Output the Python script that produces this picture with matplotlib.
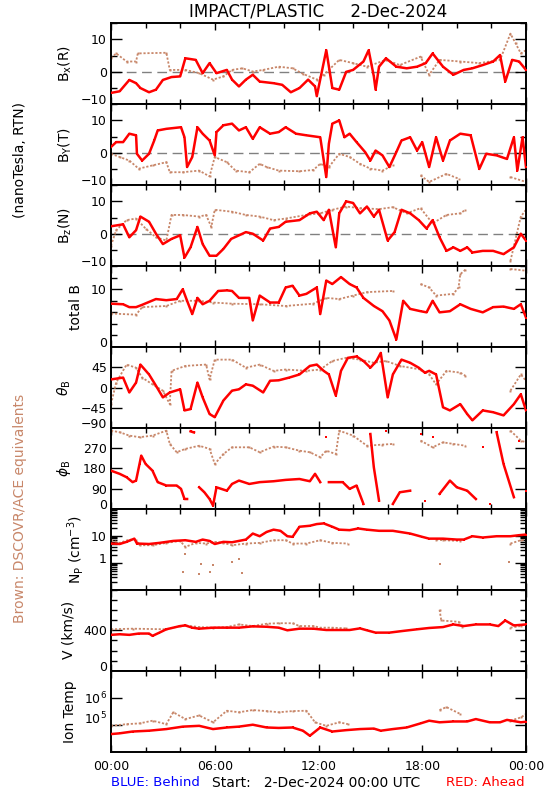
import matplotlib
matplotlib.use('Agg')
import matplotlib.pyplot as plt
import numpy as np
from matplotlib.ticker import MultipleLocator, FixedLocator, NullLocator, NullFormatter

nan = float('nan')

# ---------------- data (hours, value) ----------------
bx_red = [(0, -6.5), (0.5, -6), (1.06, -2.5), (1.45, -3.5), (1.7, -5), (2.2, -6.3), (2.6, -5.5), (3.0, -2.5),
          (3.5, -1.6), (4.0, -1.4), (4.3, 4.2), (4.9, 3.7), (5.3, -0.4), (5.7, 2.7), (6.1, -0.4), (6.7, 0.6),
          (7.0, -2.4), (7.4, -4.5), (7.8, -2.4), (8.2, -0.9), (8.6, -3), (9.4, -3.5), (9.9, -4), (10.4, -6.3),
          (10.9, -5), (11.4, -2.4), (11.8, -4.5), (11.9, -7.5), (12.45, 6.7), (12.8, -5), (13.2, -5.5), (13.6, 0),
          (14.0, 0.6), (14.6, 3.2), (14.9, 6.7), (15.2, -1.4), (15.3, -5.5), (15.5, 1.6), (15.9, 4.2), (16.5, 1.6),
          (17.1, 1.1), (17.7, 1.6), (18.2, 2.7), (18.6, 5.7), (19.2, 1.6), (19.8, -0.9), (20.4, 0.6), (20.9, 1.1),
          (21.5, 2.1), (22.1, 3.2), (22.5, 5.2), (22.8, -3), (23.2, 3.7), (23.6, 3.2), (24.0, 0.6)]
bx_brown = [(0, 4.2), (0.3, 5.7), (0.9, 3.2), (1.45, 3.2), (1.55, 5.7), (3.2, 5.9), (3.4, 0.6), (4.3, 0.6),
            (5.1, -0.4), (5.9, -2.4), (6.5, -1.4), (7.0, 0.6), (7.6, 1.1), (8.2, 0.1), (8.8, 0.6), (9.7, 1.6),
            (10.5, 1.1), (11.1, -0.6), (11.9, -2.4), (12.3, -0.9), (13.2, 3.7), (14.0, 2.7), (14.8, 1.6),
            (15.9, 3.7), (16.7, 2.1), (17.9, 4.7), (18.4, -0.9), (19.0, 3.7), (20.2, 3.2), (21.3, 2.7),
            (22.5, 3.7), (23.1, 11.8), (23.4, 8.8), (23.7, 5.7), (24.0, 6.7)]

by_red = [(0, 1.8), (0.3, 3.3), (0.7, 3.3), (1.06, 5.9), (1.45, 5.4), (1.5, -0.3), (1.8, -2.4), (2.2, -0.3),
          (2.5, 3.8), (2.7, 6.9), (3.2, 7.4), (4.05, 7.9), (4.25, 4.8), (4.4, -4.4), (4.7, -1.3), (5.0, 7.9),
          (5.3, 5.9), (5.7, 3.8), (6.0, -0.8), (6.1, 6.4), (6.5, 8.5), (7.0, 9.0), (7.4, 6.9), (7.8, 7.9),
          (8.2, 4.3), (8.6, 7.9), (9.2, 5.9), (9.7, 6.4), (10.1, 7.9), (10.7, 5.9), (11.3, 5.4), (12.1, 4.8),
          (12.45, -7.5), (12.6, 2.8), (12.8, 9.0), (13.2, 10.0), (13.5, 4.8), (13.8, 5.9), (14.2, 3.3),
          (14.7, 0.2), (15.0, -2.4), (15.3, 0.7), (15.7, -0.8), (16.1, -4.4), (16.5, 0.2), (16.8, 3.8),
          (17.3, 4.8), (17.7, 0.7), (18.0, 3.3), (18.4, -4.4), (18.8, 4.8), (19.2, -2.4), (19.6, 3.8),
          (20.2, 5.9), (20.8, 5.4), (21.3, -5.0), (21.7, -0.3), (22.3, -0.8), (22.9, -1.9), (23.3, 4.8),
          (23.5, -5.5), (23.8, 4.8), (24.0, -4.4)]
by_brown = [(0, -0.3), (0.5, -1.3), (1.06, -2.4), (1.6, -4.9), (2.4, -3.9), (3.2, -2.9), (3.4, -6.0),
            (4.15, -6.0), (5.1, -5.5), (5.7, -7.3), (6.0, -1.3), (6.7, -2.9), (7.2, -5.5), (8.0, -6.0),
            (8.6, -3.4), (9.0, -4.4), (9.7, -5.5), (10.9, -5.7), (11.7, -5.3), (12.1, -3.4), (12.6, -4.4),
            (13.2, -0.3), (13.8, -1.3), (14.4, -3.4), (15.0, -4.9), (15.7, -5.5), (16.3, -3.9), (16.35, nan),
            (17.9, -7.0), (18.4, -9.0), (19.4, -6.5), (20.1, -8.0), (20.15, nan), (23.1, -7.5), (24.0, -9.0)]

bz_red = [(0, 2.3), (0.7, 2.9), (1.06, -1.1), (1.45, 1.1), (1.7, 5.3), (2.2, 3.7), (2.6, 0), (3.0, -3.2),
          (3.5, -1.6), (4.0, -0.5), (4.25, -7.4), (4.6, -4.2), (5.0, 2.1), (5.3, -3.2), (5.7, -6.8), (6.1, -6.8),
          (6.5, -4.7), (6.95, -1.6), (7.4, -0.5), (7.8, 0.5), (8.2, 0), (8.8, -2.1), (9.2, 1.6), (9.7, 2.1),
          (10.1, 3.7), (10.9, 4.2), (11.5, 6.3), (11.9, 6.8), (12.3, 4.2), (12.6, 7.4), (13.0, -4.2), (13.2, 6.3),
          (13.6, 10.0), (14.0, 9.5), (14.4, 6.3), (14.8, 8.4), (15.2, 5.3), (15.5, 7.4), (16.0, -2.1), (16.4, 0.5),
          (16.8, 7.4), (17.3, 6.3), (17.8, 4.2), (18.25, 1.6), (18.6, 4.2), (19.0, -1.1), (19.4, -5.3),
          (19.8, -4.2), (20.2, -5.3), (20.6, -4.2), (20.9, -5.8), (21.5, -5.3), (22.1, -5.3), (22.7, -6.3),
          (23.3, -4.2), (23.7, 0), (24.0, -2.1)]
bz_brown = [(0, -3.7), (0.3, 1.1), (0.9, 4.2), (1.45, 4.7), (2.0, 1.6), (2.6, -1.1), (3.2, -2.1), (3.5, 5.8),
            (4.15, 5.8), (5.1, 5.3), (5.5, 5.8), (5.8, 2.1), (6.0, 7.4), (7.0, 6.8), (7.8, 5.8), (8.6, 5.3),
            (9.4, 4.2), (10.1, 4.7), (11.3, 5.8), (12.1, 6.3), (12.8, 7.4), (13.6, 8.4), (14.4, 7.9), (15.5, 7.6),
            (16.3, 8.2), (17.1, 6.3), (17.9, 7.9), (18.6, 3.2), (19.4, 5.8), (20.2, 6.3), (20.5, 7.4),
            (20.55, nan), (23.1, -8.4), (23.7, 5.3), (24.0, 7.4)]

bt_red = [(0, 7.5), (0.7, 7.4), (1.06, 6.9), (1.45, 6.9), (1.8, 7.3), (2.6, 8.3), (3.2, 8.1), (3.8, 8.3),
          (4.15, 10.0), (4.4, 8.0), (4.7, 5.7), (5.0, 8.5), (5.3, 7.4), (5.7, 8.0), (6.2, 9.7), (6.7, 9.8),
          (7.0, 9.7), (7.4, 8.5), (8.0, 8.5), (8.2, 4.6), (8.6, 8.9), (9.2, 7.7), (9.7, 7.7), (10.1, 10.3),
          (10.5, 10.6), (10.9, 8.9), (11.3, 9.2), (11.9, 10.3), (12.1, 5.7), (12.45, 11.5), (12.8, 10.9),
          (13.3, 12.1), (13.8, 10.9), (14.2, 10.3), (14.6, 8.5), (15.2, 7.1), (15.7, 6.2), (16.1, 4.6),
          (16.5, 1.3), (16.9, 8.0), (17.3, 6.6), (17.9, 6.2), (18.25, 6.0), (18.6, 8.0), (19.0, 6.0),
          (19.6, 6.2), (20.2, 7.4), (20.8, 6.6), (21.5, 6.0), (22.1, 6.9), (22.7, 7.0), (23.3, 6.6),
          (23.7, 7.4), (24.0, 5.1)]
bt_brown = [(0, 5.8), (1.45, 5.6), (1.8, 6.9), (3.2, 7.1), (4.0, 8.0), (5.1, 8.0), (5.9, 7.7), (7.0, 7.5),
            (8.6, 7.4), (10.1, 7.1), (11.7, 7.5), (12.45, 8.5), (13.2, 8.3), (14.0, 8.9), (14.8, 9.5),
            (16.3, 9.7), (16.35, nan), (17.9, 10.9), (18.4, 10.3), (18.8, 8.9), (19.8, 9.2), (20.1, 10.3),
            (20.2, 12.6), (20.5, 13.4), (20.55, nan), (23.1, 13.5), (24.0, 13.2)]

th_red = [(0, 18), (0.7, 22), (1.06, -11), (1.45, 11), (1.7, 51), (2.2, 29), (2.6, 4), (3.0, -22), (3.4, -11),
          (4.0, -4), (4.25, -51), (4.6, -48), (5.0, 11), (5.3, -22), (5.7, -59), (6.0, -66), (6.5, -29),
          (7.0, -7), (7.4, -4), (7.8, 7), (8.2, 4), (8.8, -11), (9.2, 15), (9.7, 16), (10.3, 22), (10.9, 29),
          (11.5, 48), (11.9, 51), (12.3, 37), (12.6, 29), (13.0, -18), (13.3, 37), (13.7, 66), (14.2, 69),
          (14.6, 59), (15.0, 44), (15.35, 59), (15.6, 77), (16.0, -22), (16.3, 29), (16.8, 62), (17.3, 55),
          (17.8, 44), (18.15, 33), (18.4, 37), (18.8, 29), (19.2, -44), (19.6, -51), (20.2, -37), (20.6, -59),
          (20.9, -73), (21.5, -51), (22.1, -55), (22.7, -62), (23.3, -37), (23.7, -15), (24.0, -51)]
th_brown = [(0, -37), (0.3, 11), (0.9, 51), (1.45, 44), (1.8, 22), (2.4, 7), (3.0, -7), (3.4, -37), (3.5, 37),
            (4.3, 48), (5.5, 51), (5.7, 18), (6.0, 62), (7.0, 62), (7.8, 44), (8.6, 51), (9.4, 37), (10.1, 40),
            (11.3, 37), (12.1, 40), (12.8, 59), (13.6, 66), (14.4, 62), (15.2, 55), (15.9, 59), (16.7, 48),
            (17.9, 40), (18.4, 29), (18.8, 7), (19.4, 37), (20.2, 33), (20.5, 26), (20.55, nan), (23.1, -7),
            (23.7, 29), (24.0, 15)]

ph_red = [(0, 170), (0.5, 156), (0.9, 141), (1.25, 119), (1.45, 126), (1.65, 200), (1.75, 237), (2.0, 200),
          (2.4, 170), (2.7, 119), (3.2, 104), (3.8, 104), (4.05, 89), (4.25, 44), (4.4, 44), (4.6, 345),
          (4.8, 340), (5.1, 96), (5.4, 74), (5.7, 44), (5.9, 15), (6.1, 96), (6.7, 81), (7.0, 111), (7.4, 126),
          (8.0, 111), (8.6, 119), (9.4, 123), (10.1, 129), (10.9, 133), (11.5, 123), (11.8, 156), (12.1, 119),
          (12.45, 319), (12.6, 119), (13.4, 119), (13.8, 89), (14.2, 104), (14.6, 22), (15.0, 333), (15.2, 185),
          (15.5, 37), (15.9, 348), (16.3, 22), (16.7, 74), (17.3, 81), (17.9, 333), (18.15, 37), (18.6, 319),
          (19.0, 67), (19.6, 126), (20.0, 96), (20.6, 81), (21.1, 44), (21.5, 274), (21.9, 22), (22.3, 341),
          (22.7, 200), (23.3, 52), (23.6, 304), (24.0, 81)]
ph_brown = [(0, 348), (0.5, 341), (1.06, 326), (1.65, 319), (2.4, 326), (3.2, 348), (3.4, 289), (3.8, 252),
            (4.3, 267), (5.1, 281), (5.7, 267), (6.0, 200), (6.5, 244), (7.0, 274), (8.0, 274), (8.6, 252),
            (9.4, 277), (10.1, 274), (10.9, 259), (11.5, 252), (12.1, 230), (12.45, 259), (13.0, 244),
            (13.2, 348), (14.0, 326), (14.8, 281), (15.7, 286), (16.3, 289), (16.35, nan), (17.9, 304),
            (18.6, 274), (19.2, 296), (19.8, 289), (20.5, 281), (20.55, nan), (23.1, 348), (23.7, 304), (24.0, 296)]

np_red = [(0, 5.2), (0.5, 5.0), (0.9, 6.0), (1.35, 7.9), (1.5, 5.2), (2.2, 5.0), (2.8, 5.5), (3.6, 6.5),
          (4.3, 6.9), (4.9, 6.0), (5.3, 7.3), (5.7, 6.5), (6.0, 5.0), (6.5, 6.0), (7.0, 5.8), (7.8, 7.3),
          (8.2, 12.2), (8.6, 9.7), (9.0, 14.0), (9.4, 17.0), (9.8, 15.4), (10.2, 9.7), (10.5, 9.2), (10.9, 21.8),
          (11.5, 23.7), (11.9, 27.4), (12.3, 29.0), (12.8, 21.8), (13.2, 17.0), (13.8, 16.3), (14.3, 18.8),
          (14.8, 17.0), (15.5, 15.4), (16.3, 15.4), (17.3, 12.2), (18.0, 9.2), (18.4, 7.9), (19.2, 7.9),
          (20.0, 7.3), (20.4, 7.3), (20.9, 9.7), (21.5, 8.7), (22.3, 9.7), (23.1, 9.7), (23.6, 10.6), (24.0, 11.2)]
np_brown = [(0, 6.9), (0.5, 5.5), (1.06, 7.3), (1.45, 6.9), (1.65, 4.5), (2.4, 4.5), (3.2, 5.5), (4.0, 6.5),
            (4.3, 3.9), (4.9, 5.5), (5.5, 5.2), (6.0, 6.0), (6.5, 5.5), (7.0, 4.5), (7.8, 5.2), (8.6, 5.5),
            (9.4, 6.9), (10.1, 6.9), (10.5, 5.2), (11.3, 5.2), (12.1, 6.9), (12.8, 5.5), (13.7, 5.2),
            (13.75, nan), (18.8, 7.3), (19.2, 6.9), (20.2, 6.5), (20.25, nan), (23.1, 5.2), (23.7, 6.9), (24.0, 7.3)]
np_brown_outliers = [(4.15, 0.45), (5.1, 0.39), (5.7, 0.45), (7.6, 0.41), (19.0, 0.9), (23.0, 1.1),
                     (5.2, 0.9), (5.9, 0.8), (7.0, 1.1), (4.3, 2.2), (7.4, 1.4)]

v_red = [(0, 355), (0.5, 361), (1.06, 355), (1.6, 368), (2.2, 368), (2.4, 345), (2.8, 377), (3.2, 410),
         (4.0, 442), (4.3, 448), (4.7, 426), (5.1, 416), (5.9, 426), (6.7, 426), (7.4, 426), (8.2, 439),
         (9.0, 435), (9.7, 426), (10.2, 400), (10.9, 416), (11.7, 416), (12.45, 403), (13.2, 403), (13.8, 403),
         (14.4, 419), (14.8, 400), (15.3, 377), (16.1, 377), (16.9, 394), (17.7, 410), (18.4, 423), (19.2, 432),
         (19.8, 458), (20.4, 442), (21.1, 458), (21.9, 458), (22.4, 442), (22.8, 497), (23.3, 448), (24.0, 458)]
v_brown = [(0, 410), (1.25, 416), (3.2, 410), (4.0, 442), (4.3, 448), (5.1, 432), (5.9, 426), (6.7, 432),
           (7.4, 458), (8.2, 442), (9.0, 465), (9.7, 470), (10.5, 470), (10.9, 442), (11.7, 442), (12.1, 426),
           (12.8, 426), (13.6, 419), (13.65, nan), (19.0, 603), (19.1, 497), (20.1, 484), (20.3, 432),
           (20.35, nan), (23.1, 426), (23.7, 442), (24.0, 465)]

t_red = [(0, 4.5e4), (0.5, 4.8e4), (1.25, 5.6e4), (2.2, 6.0e4), (3.2, 6.9e4), (4.15, 8.5e4), (5.1, 9.1e4),
         (5.9, 6.9e4), (6.7, 7.9e4), (7.4, 8.5e4), (8.2, 1.0e5), (9.0, 7.9e4), (9.7, 7.6e4), (10.5, 7.9e4),
         (11.1, 6.0e4), (11.5, 3.9e4), (12.1, 7.9e4), (12.8, 5.6e4), (13.6, 6.3e4), (14.4, 6.9e4),
         (15.2, 7.2e4), (15.6, 6.0e4), (16.3, 6.9e4), (17.1, 7.9e4), (17.9, 1.12e5), (18.4, 1.41e5),
         (19.0, 1.23e5), (19.8, 1.32e5), (20.6, 1.32e5), (21.1, 1.62e5), (21.9, 1.23e5), (22.5, 1.23e5),
         (22.9, 1.51e5), (23.7, 1.23e5), (24.0, 1.29e5)]
t_brown = [(0, 9.1e4), (0.9, 1.05e5), (1.65, 1.12e5), (2.4, 1.41e5), (3.2, 1.05e5), (3.6, 2.9e5),
           (4.3, 1.62e5), (5.1, 2.2e5), (5.9, 1.23e5), (6.7, 3.3e5), (7.4, 2.9e5), (8.2, 3.5e5), (9.0, 3.2e5),
           (9.7, 2.9e5), (10.5, 3.2e5), (11.3, 3.3e5), (11.8, 1.23e5), (12.45, 9.1e4), (13.2, 1.23e5),
           (13.7, 1.05e5), (13.75, nan), (19.0, 3.5e5), (19.4, 4.5e5), (20.2, 2.5e5), (20.25, nan),
           (23.1, 1.41e5), (23.7, 1.86e5), (24.0, 2.5e5)]

xtick_labels = ['00:00', '06:00', '12:00', '18:00', '00:00']

# ---------------- style ----------------
RED = '#FF0000'
BROWN = '#C8876A'
W, H = 550, 800
plt.rcParams['font.family'] = ['DejaVu Sans']

fig = plt.figure(figsize=(W / 100, H / 100), dpi=100)
L, R = 111 / W, 526 / W
top_px, bot_px = 23.3, 751.7
ph = (bot_px - top_px) / 9
axes = []
for i in range(9):
    y0 = 1 - (top_px + (i + 1) * ph) / H
    axes.append(fig.add_axes([L, y0, R - L, ph / H]))


def split(pairs, jump=None):
    t = np.array([p[0] for p in pairs], float)
    v = np.array([p[1] for p in pairs], float)
    if jump is not None:
        tt, vv = [t[0]], [v[0]]
        for k in range(1, len(t)):
            if abs(v[k] - v[k - 1]) > jump:
                tt.append(np.nan); vv.append(np.nan)
            tt.append(t[k]); vv.append(v[k])
        t, v = np.array(tt), np.array(vv)
    return t, v


def draw(ax, brown, red, jump=None):
    tb, vb = split(brown, jump)
    ax.plot(tb, vb, color=BROWN, lw=1.3, ls=(0, (1.2, 1.0)), marker='s', ms=1.4, mew=0, zorder=2)
    tr, vr = split(red, jump)
    ax.plot(tr, vr, color=RED, lw=1.8, marker='s', ms=2.0, mew=0, zorder=3)


panels = [(bx_brown, bx_red), (by_brown, by_red), (bz_brown, bz_red), (bt_brown, bt_red),
          (th_brown, th_red), (ph_brown, ph_red), (np_brown, np_red), (v_brown, v_red), (t_brown, t_red)]

for i, (ax, (b, r)) in enumerate(zip(axes, panels)):
    draw(ax, b, r, jump=150 if i == 5 else None)

# B components
for ax in axes[:3]:
    ax.set_ylim(-10, 15)
    ax.set_yticks([-10, 0, 10], ['\u221210', '0', '10'])
    ax.yaxis.set_minor_locator(FixedLocator([-5, 5, 15]))
    ax.axhline(0, color='#808080', lw=1.0, ls=(0, (7, 4)), zorder=1)

axes[3].set_ylim(0, 14)
axes[3].set_yticks([0, 10], ['0', '10'])
axes[3].yaxis.set_minor_locator(MultipleLocator(2))

axes[4].set_ylim(-90, 90)
axes[4].set_yticks([-90, -45, 0, 45], ['\u221290', '\u221245', '0', '45'])

axes[5].set_ylim(0, 360)
axes[5].set_yticks([0, 90, 180, 270], ['0', '90', '180', '270'])

axes[6].set_yscale('log')
axes[6].set_ylim(0.1, 100)
axes[6].set_yticks([1, 10], ['1', '10'])
axes[6].yaxis.set_minor_locator(FixedLocator([m * 10.0 ** e for e in (-1, 0, 1) for m in range(2, 10)]))
axes[6].yaxis.set_minor_formatter(NullFormatter())
to, vo = split(np_brown_outliers)
axes[6].plot(to, vo, ls='none', marker='s', ms=1.6, mew=0, color=BROWN)

axes[7].set_ylim(0, 800)
axes[7].set_yticks([0, 400], ['0', '400'])
axes[7].yaxis.set_minor_locator(MultipleLocator(100))

axes[8].set_yscale('log')
axes[8].set_ylim(1e4, 1e7)
axes[8].set_yticks([1e5, 1e6], [r'$\mathregular{10^5}$', r'$\mathregular{10^6}$'])
axes[8].yaxis.set_minor_locator(NullLocator())

for i, ax in enumerate(axes):
    ax.set_xlim(0, 24)
    ax.xaxis.set_major_locator(MultipleLocator(6))
    ax.xaxis.set_minor_locator(MultipleLocator(2))
    ax.tick_params(axis='both', which='both', direction='in', top=True, right=True,
                   labelsize=9, width=1, colors='black')
    ax.tick_params(axis='y', which='major', length=8, pad=3)
    ax.tick_params(axis='y', which='minor', length=4)
    ax.tick_params(axis='x', which='major', length=5)
    ax.tick_params(axis='x', which='minor', length=3.5)
    for s in ax.spines.values():
        s.set_linewidth(1.4)
    if i < 8:
        ax.tick_params(axis='x', labelbottom=False)
    # lowest label sits at the panel edge: lift it slightly
    ax.yaxis.get_major_ticks()[0].label1.set_verticalalignment('baseline')

axes[8].set_xticks([0, 6, 12, 18, 24], xtick_labels)
axes[8].tick_params(axis='x', which='major', pad=6, labelsize=9)


def ycen(i):
    return 1 - (top_px + (i + 0.5) * ph) / H


ylabels = [(r'$\mathregular{B_x(R)}$', 65), (r'$\mathregular{B_Y(T)}$', 65), (r'$\mathregular{B_z(N)}$', 65),
           ('total B', 76), (r'$\theta_\mathregular{B}$', 64), (r'$\phi_\mathregular{B}$', 64),
           (r'$\mathregular{N_P\ (cm^{-3})}$', 75), ('V (km/s)', 68), ('Ion Temp', 70)]
for i, (txt, xp) in enumerate(ylabels):
    fig.text(xp / W, ycen(i), txt, rotation=90, ha='center', va='center', fontsize=10)

fig.text(20 / W, 1 - 160 / H, '(nanoTesla, RTN)', rotation=90, ha='center', va='center', fontsize=10)
fig.text(20 / W, 1 - 508 / H, 'Brown: DSCOVR/ACE equivalents', rotation=90, ha='center', va='center',
         fontsize=10, color=BROWN)

fig.text(318.5 / W, 1 - 11 / H, 'IMPACT/PLASTIC     2-Dec-2024', ha='center', va='center', fontsize=12)
fig.text(111 / W, 1 - 783 / H, 'BLUE: Behind', ha='left', va='center', fontsize=9.5, color='#0000FF')
fig.text(212 / W, 1 - 783 / H, 'Start:   2-Dec-2024 00:00 UTC', ha='left', va='center', fontsize=10)
fig.text(525 / W, 1 - 783 / H, 'RED: Ahead', ha='right', va='center', fontsize=9.5, color=RED)

fig.savefig('out.png', dpi=100, facecolor='white')
